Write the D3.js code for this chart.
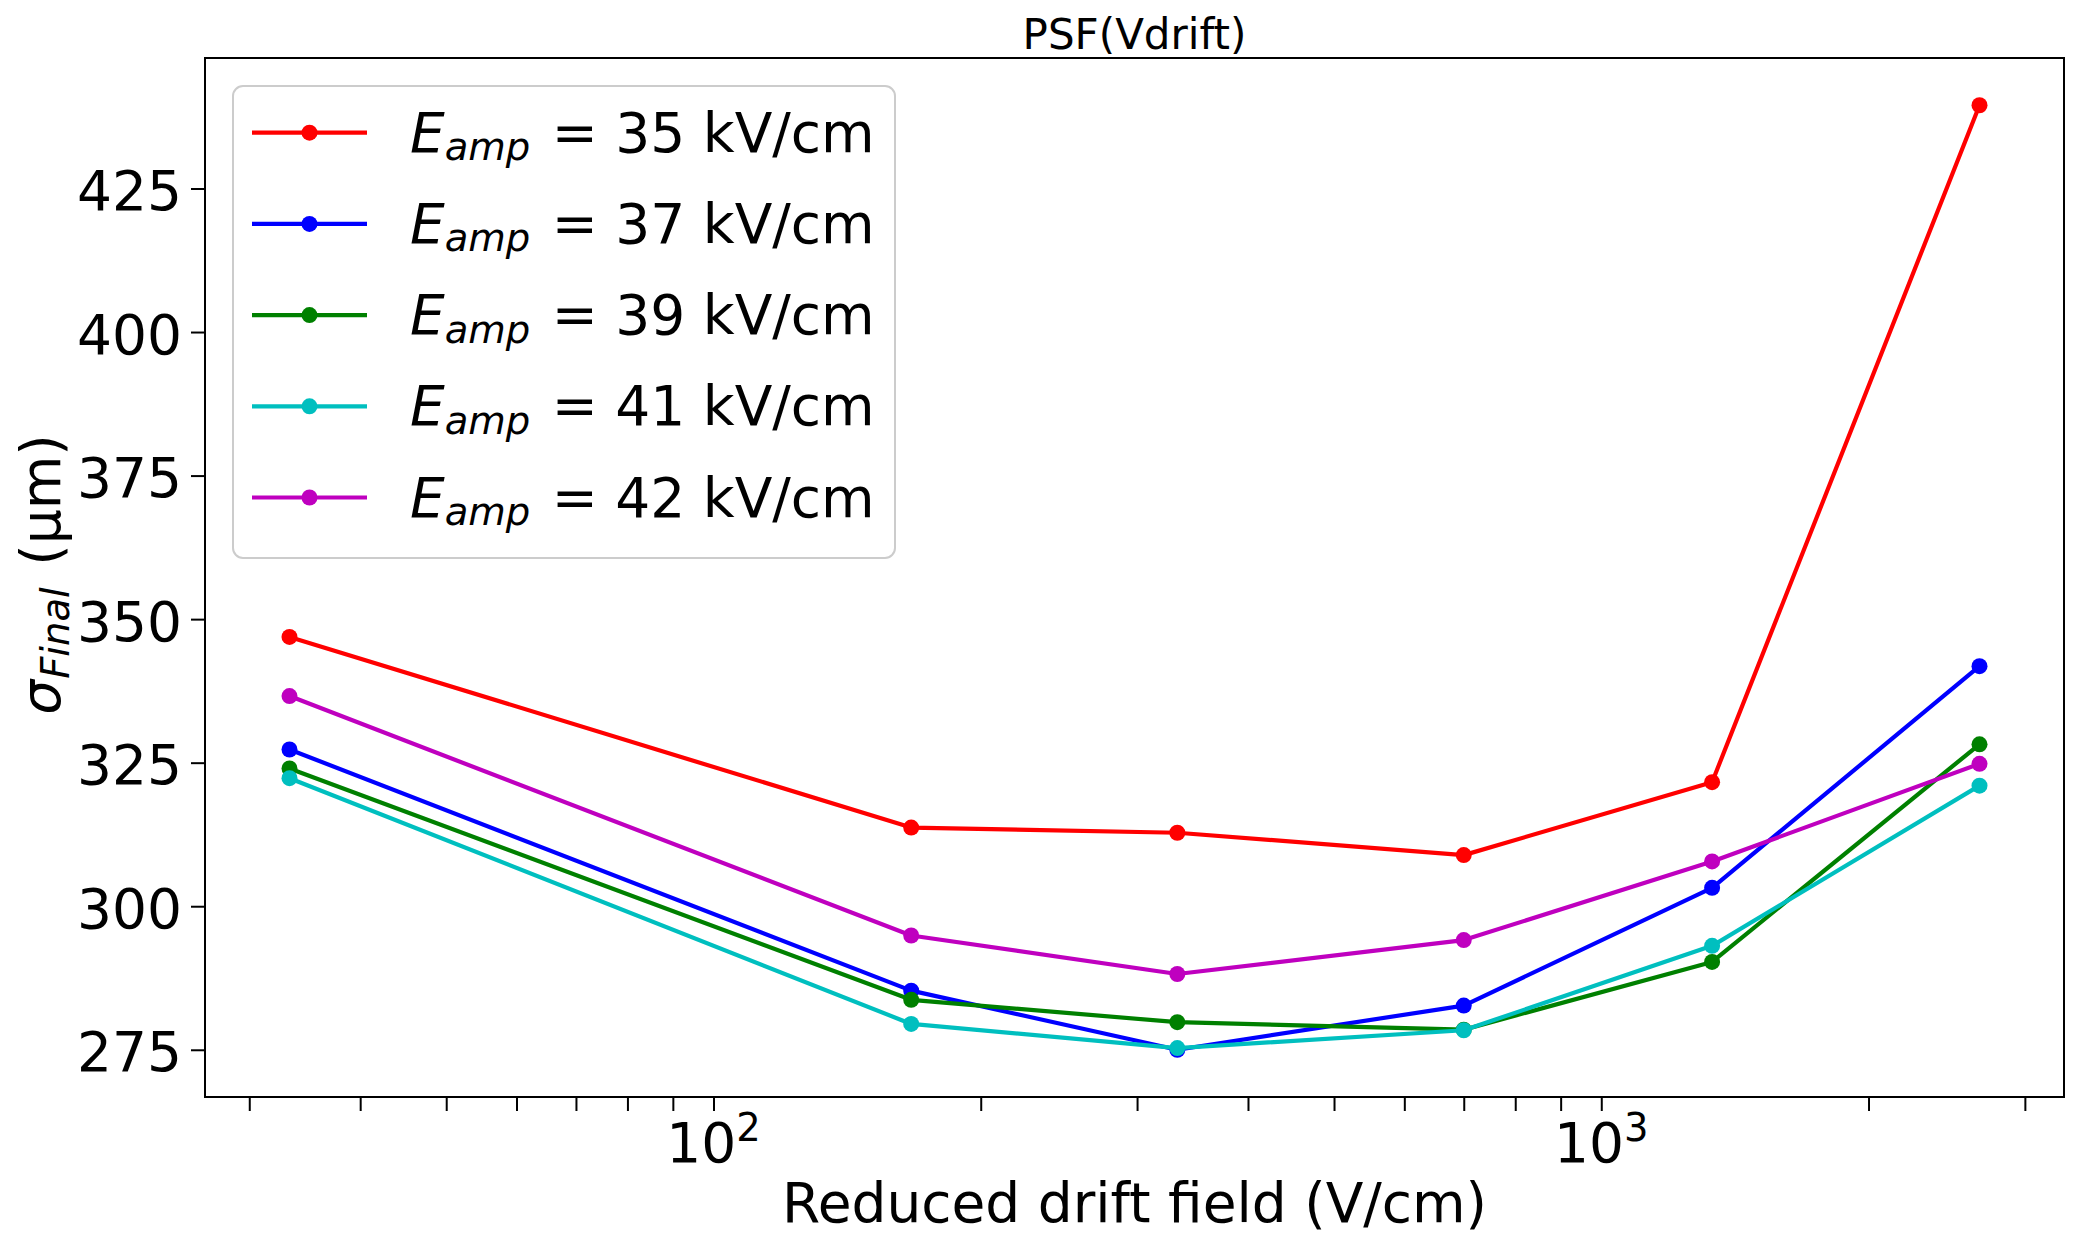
<!DOCTYPE html>
<html><head><meta charset="utf-8">
<script src="https://cdn.jsdelivr.net/npm/d3@7"></script>
<style>
body{margin:0;background:#fff}
svg{display:block}
text{font-family:"DejaVu Sans",sans-serif;fill:#000}
</style>
</head><body>
<svg id="chart" width="2075" height="1234"></svg>
<script>
// ---- data ----
const driftField = [33.3, 167, 333, 700, 1333, 2667];
const eampLabels = ["35", "37", "39", "41", "42"];
const sigma35 = [346.9, 313.7, 312.8, 308.9, 321.6, 439.5];
const sigma37 = [327.3, 285.3, 275.0, 282.7, 303.2, 341.8];
const sigma39 = [324.0, 283.7, 279.8, 278.5, 290.3, 328.2];
const sigma41 = [322.3, 279.5, 275.3, 278.4, 293.1, 321.0];
const sigma42 = [336.6, 294.9, 288.2, 294.1, 307.8, 324.8];
const seriesColors = ["#ff0000", "#0000ff", "#008000", "#00bfbf", "#bf00bf"];
const yTickValues = [275, 300, 325, 350, 375, 400, 425];
const xMajorExponents = [2, 3];
const titleText = "PSF(Vdrift)";
const xLabelText = "Reduced drift field (V/cm)";

const series = [sigma35, sigma37, sigma39, sigma41, sigma42].map((vals, i) => ({
  label: eampLabels[i], color: seriesColors[i],
  points: vals.map((v, j) => ({x: driftField[j], y: v}))
}));

// ---- layout ----
const L = 205, R = 2064, T = 58, B = 1097;
const FS = 55, SUB = 38.5;

const svg = d3.select("#chart");

// domains with 5% margins (log space on x)
const lx = driftField.map(Math.log10);
const lxMin = d3.min(lx), lxMax = d3.max(lx), lm = (lxMax - lxMin) * 0.05;
const x = d3.scaleLog().domain([10 ** (lxMin - lm), 10 ** (lxMax + lm)]).range([L, R]);
const allY = series.flatMap(s => s.points.map(p => p.y));
const yMin = d3.min(allY), yMax = d3.max(allY), ym = (yMax - yMin) * 0.05;
const y = d3.scaleLinear().domain([yMin - ym, yMax + ym]).range([B, T]);

// ---- axes ----
const xAxis = d3.axisBottom(x).tickValues(x.ticks()).tickSize(14).tickFormat("");
const gx = svg.append("g").attr("transform", `translate(0,${B})`).call(xAxis);
gx.select(".domain").remove();
gx.selectAll(".tick line").attr("stroke", "#000").attr("stroke-width", 2);

xMajorExponents.forEach(e => {
  const t = svg.append("text")
    .attr("x", x(10 ** e)).attr("y", B + 65)
    .attr("text-anchor", "middle").style("font-size", FS + "px");
  t.append("tspan").text("10");
  t.append("tspan").attr("dy", -21.5).style("font-size", SUB + "px").text(String(e));
});

const yAxis = d3.axisLeft(y).tickValues(yTickValues).tickSize(14).tickPadding(9).tickFormat(d3.format("d"));
const gy = svg.append("g").attr("transform", `translate(${L},0)`).call(yAxis);
gy.select(".domain").remove();
gy.selectAll(".tick line").attr("stroke", "#000").attr("stroke-width", 2);
gy.selectAll(".tick text").attr("dy", null).attr("y", 21)
  .style("font-size", FS + "px").style("font-family", '"DejaVu Sans",sans-serif').attr("fill", "#000");

// frame
svg.append("rect").attr("x", L).attr("y", T).attr("width", R - L).attr("height", B - T)
  .attr("fill", "none").attr("stroke", "#000").attr("stroke-width", 2);

// ---- lines ----
const line = d3.line().x(d => x(d.x)).y(d => y(d.y));
series.forEach(s => {
  const g = svg.append("g");
  g.append("path").datum(s.points).attr("d", line)
    .attr("fill", "none").attr("stroke", s.color).attr("stroke-width", 4.2)
    .attr("stroke-linejoin", "round");
  g.selectAll("circle").data(s.points).join("circle")
    .attr("cx", d => x(d.x)).attr("cy", d => y(d.y)).attr("r", 8)
    .attr("fill", s.color);
});

// ---- title & labels ----
svg.append("text").attr("x", (L + R) / 2).attr("y", 49).attr("text-anchor", "middle")
  .style("font-size", "42px").text(titleText);
svg.append("text").attr("x", (L + R) / 2).attr("y", 1222).attr("text-anchor", "middle")
  .style("font-size", FS + "px").text(xLabelText);

const yl = svg.append("text").attr("transform", `translate(60,${(T + B) / 2 - 3}) rotate(-90)`)
  .attr("text-anchor", "middle").style("font-size", FS + "px");
yl.append("tspan").style("font-style", "italic").text("σ");
yl.append("tspan").style("font-style", "italic").style("font-size", SUB + "px").attr("dy", 8.5).attr("dx", 1).text("Final");
yl.append("tspan").attr("dy", -8.5).attr("dx", 4).text(" (μm)");

// ---- legend ----
const leg = svg.append("g");
leg.append("rect").attr("x", 233).attr("y", 86).attr("width", 662).attr("height", 472)
  .attr("rx", 10).attr("ry", 10)
  .attr("fill", "rgba(255,255,255,0.8)").attr("stroke", "#cccccc").attr("stroke-width", 2);
series.forEach((s, i) => {
  const cy = 132.7 + i * 91.2;
  leg.append("line").attr("x1", 252).attr("x2", 367).attr("y1", cy).attr("y2", cy)
    .attr("stroke", s.color).attr("stroke-width", 4.2);
  leg.append("circle").attr("cx", 309.5).attr("cy", cy).attr("r", 8).attr("fill", s.color);
  const t = leg.append("text").attr("x", 410).attr("y", cy + 19).style("font-size", FS + "px");
  t.append("tspan").style("font-style", "italic").text("E");
  t.append("tspan").style("font-style", "italic").style("font-size", SUB + "px").attr("dy", 8.5).text("amp");
  t.append("tspan").attr("dy", -8.5).attr("dx", 4).text(` = ${s.label} kV/cm`);
});
</script>
</body></html>
